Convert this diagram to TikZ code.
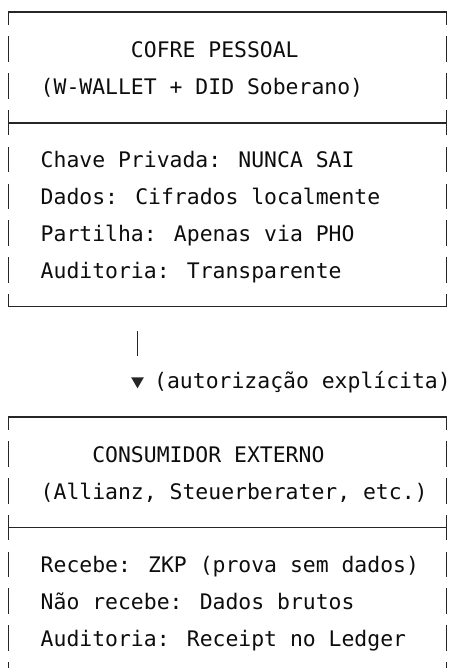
\documentclass[tikz,border=0pt]{standalone}
\usepackage{fontspec}
\newfontfamily\dvm{DejaVu Sans Mono}
\usetikzlibrary{arrows.meta}
\begin{document}
\begin{tikzpicture}[x=1pt,y=-1pt,
  txt/.style={anchor=base west, inner sep=0pt, font=\dvm\fontsize{21.42pt}{25pt}\selectfont, text=black!95},
  hline/.style={line width=1.4pt, draw=black!85, line cap=rect},
  vline/.style={line width=1.4pt, draw=black!85, dash pattern=on 25.5pt off 11.31pt, dash phase=12.5pt},
  conn/.style={line width=1.4pt, draw=black!85, dash pattern=on 25.5pt off 40pt,
    -{Triangle[length=11pt,width=12.4pt]}},
]
\useasboundingbox (0,0) rectangle (451,668);
\clip (0,0) rectangle (451,668);

% ---- box 1 geometry
\coordinate (b1tl) at (8.3,12);
\coordinate (b1tr) at (446.7,12);
\coordinate (b1sl) at (8.3,122.9);
\coordinate (b1sr) at (446.7,122.9);
\coordinate (b1bl) at (8.3,306.5);
\coordinate (b1br) at (446.7,306.5);
% ---- box 2 geometry
\coordinate (b2tl) at (8.3,416.9);
\coordinate (b2tr) at (446.7,416.9);
\coordinate (b2sl) at (8.3,527.3);
\coordinate (b2sr) at (446.7,527.3);
\coordinate (b2bl) at (8.3,700);
\coordinate (b2br) at (446.7,700);

% box 1
\draw[hline] (b1tl) -- (b1tr);
\draw[hline] (b1sl) -- (b1sr);
\draw[hline] (b1bl) -- (b1br);
\draw[vline] (b1tl) -- (b1bl);
\draw[vline] (b1tr) -- (b1br);

% box 2
\draw[hline] (b2tl) -- (b2tr);
\draw[hline] (b2sl) -- (b2sr);
\draw[vline] (b2tl) -- (b2bl);
\draw[vline] (b2tr) -- (b2br);

% texts box 1
\node[txt] (t1) at (130.79,57.51) {COFRE PESSOAL};
\node[txt] (t2) at (40.53,94.32) {(W-WALLET + DID Soberano)};
\node[txt] (t3) at (40.53,167.94) {Chave Privada: NUNCA SAI};
\node[txt] (t4) at (40.53,204.75) {Dados: Cifrados localmente};
\node[txt] (t5) at (40.53,241.56) {Partilha: Apenas via PHO};
\node[txt] (t6) at (40.53,278.37) {Auditoria: Transparente};

% connector
\coordinate (arrS) at (137.5,330.8);
\coordinate (arrE) at (137.5,388.3);
\draw[conn] (arrS) -- (arrE);
\node[txt] (lbl) at (154.0,388.8) {(autorização explícita)};

% texts box 2
\node[txt] (u1) at (92.11,462.42) {CONSUMIDOR EXTERNO};
\node[txt] (u2) at (40.53,499.23) {(Allianz, Steuerberater, etc.)};
\node[txt] (u3) at (40.53,572.85) {Recebe: ZKP (prova sem dados)};
\node[txt] (u4) at (40.53,609.66) {Não recebe: Dados brutos};
\node[txt] (u5) at (40.53,646.47) {Auditoria: Receipt no Ledger};
\end{tikzpicture}
\end{document}
